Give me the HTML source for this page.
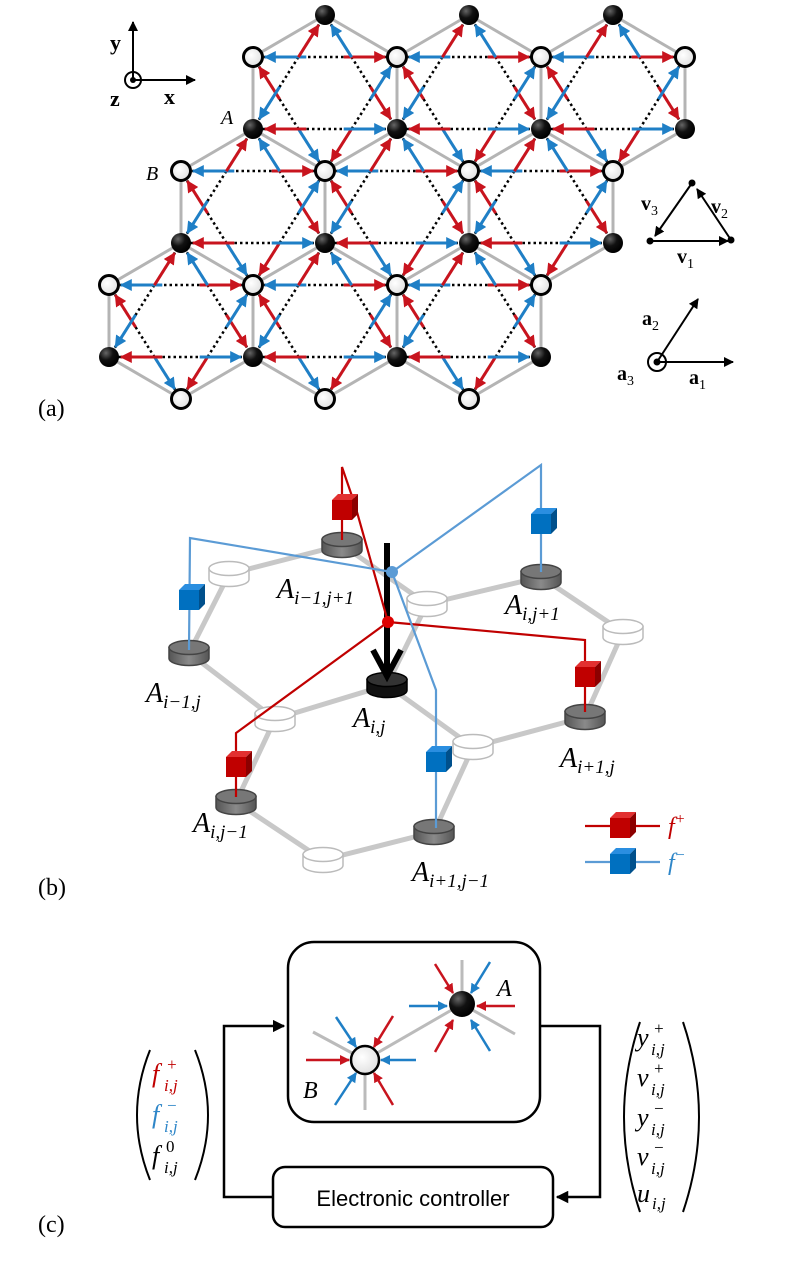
<!DOCTYPE html>
<html><head><meta charset="utf-8"><style>
html,body{margin:0;padding:0;background:#fff;}
svg{display:block;}
.s{font-family:"Liberation Serif",serif;}
.it{font-family:"Liberation Serif",serif;font-style:italic;}
</style></head><body>
<svg id="sv" width="787" height="1266" viewBox="0 0 787 1266" xmlns="http://www.w3.org/2000/svg">
<defs>
<marker id="mr" viewBox="0 0 10 10" refX="9" refY="5" markerWidth="4" markerHeight="4" orient="auto"><path d="M0,0L10,5L0,10z" fill="#c8141e"/></marker>
<marker id="mb" viewBox="0 0 10 10" refX="9" refY="5" markerWidth="4" markerHeight="4" orient="auto"><path d="M0,0L10,5L0,10z" fill="#1f7fc6"/></marker>
<marker id="mk" viewBox="0 0 10 10" refX="9" refY="5" markerWidth="5" markerHeight="5" orient="auto"><path d="M0,0L10,5L0,10z" fill="#000"/></marker>
<radialGradient id="gb" cx="0.35" cy="0.3" r="0.7"><stop offset="0" stop-color="#666"/><stop offset="0.5" stop-color="#111"/><stop offset="1" stop-color="#000"/></radialGradient>
<radialGradient id="gw" cx="0.4" cy="0.4" r="0.7"><stop offset="0" stop-color="#fff"/><stop offset="1" stop-color="#ddd"/></radialGradient>
<linearGradient id="gc" x1="0" x2="1"><stop offset="0" stop-color="#555"/><stop offset="0.5" stop-color="#8a8a8a"/><stop offset="1" stop-color="#555"/></linearGradient>
</defs>
<g id="latt"></g>

<!-- axes -->
<g stroke="#000" stroke-width="2" fill="none">
<line x1="133" y1="80" x2="133" y2="22" marker-end="url(#mk)"/>
<line x1="133" y1="80" x2="195" y2="80" marker-end="url(#mk)"/>
<circle cx="133" cy="80" r="8"/>
</g>
<circle cx="133" cy="80" r="3" fill="#000"/>
<text x="110" y="50" class="s" font-size="22" font-weight="bold">y</text>
<text x="110" y="106" class="s" font-size="22" font-weight="bold">z</text>
<text x="164" y="104" class="s" font-size="22" font-weight="bold">x</text>
<text x="221" y="124" class="it" font-size="20">A</text>
<text x="146" y="180" class="it" font-size="20">B</text>

<!-- v triangle -->
<g stroke="#000" stroke-width="2" fill="none">
<line x1="650" y1="241" x2="728" y2="241" marker-end="url(#mk)"/>
<line x1="731" y1="240" x2="697" y2="189" marker-end="url(#mk)"/>
<line x1="692" y1="183" x2="655" y2="236" marker-end="url(#mk)"/>
<line x1="657" y1="362" x2="733" y2="362" marker-end="url(#mk)"/>
<line x1="657" y1="362" x2="698" y2="299" marker-end="url(#mk)"/>
<circle cx="657" cy="362" r="9"/>
</g>
<circle cx="650" cy="241" r="3.5"/><circle cx="731" cy="240" r="3.5"/><circle cx="692" cy="183" r="3.5"/>
<circle cx="657" cy="362" r="3.5"/>
<g class="s" font-size="20" font-weight="bold">
<text x="641" y="210">v<tspan font-size="14" font-weight="normal" dy="5">3</tspan></text>
<text x="711" y="213">v<tspan font-size="14" font-weight="normal" dy="5">2</tspan></text>
<text x="677" y="263">v<tspan font-size="14" font-weight="normal" dy="5">1</tspan></text>
<text x="642" y="325">a<tspan font-size="14" font-weight="normal" dy="5">2</tspan></text>
<text x="617" y="380">a<tspan font-size="14" font-weight="normal" dy="5">3</tspan></text>
<text x="689" y="384">a<tspan font-size="14" font-weight="normal" dy="5">1</tspan></text>
</g>
<text x="38" y="416" class="s" font-size="24">(a)</text>

<!-- part b -->
<g stroke="#c8c8c8" stroke-width="5" stroke-linecap="round">
<line x1="229" y1="574" x2="342" y2="545"/><line x1="229" y1="574" x2="189" y2="653"/>
<line x1="189" y1="653" x2="275" y2="719"/><line x1="275" y1="719" x2="387" y2="685"/>
<line x1="275" y1="719" x2="236" y2="802"/><line x1="236" y1="802" x2="323" y2="860"/>
<line x1="323" y1="860" x2="434" y2="832"/><line x1="434" y1="832" x2="473" y2="747"/>
<line x1="473" y1="747" x2="387" y2="685"/><line x1="473" y1="747" x2="585" y2="717"/>
<line x1="585" y1="717" x2="623" y2="632"/><line x1="623" y1="632" x2="541" y2="577"/>
<line x1="541" y1="577" x2="427" y2="604"/><line x1="427" y1="604" x2="387" y2="685"/>
<line x1="427" y1="604" x2="342" y2="545"/>
</g>
<g id="cyl"></g>
<line x1="387" y1="543" x2="387" y2="676" stroke="#000" stroke-width="6"/>
<path d="M373,650 L387,676 L401,650" stroke="#000" stroke-width="6" fill="none"/>
<g stroke="#c00000" stroke-width="2.2" fill="none">
<polyline points="342,540 342,467 355,505 388,622"/>
<polyline points="388,622 585,640 585,712"/>
<polyline points="388,622 236,733 236,797"/>
<line x1="585" y1="826" x2="660" y2="826"/>
</g>
<g stroke="#5b9bd5" stroke-width="2.2" fill="none">
<polyline points="189,650 190,538 392,572"/>
<polyline points="541,572 541,465 392,572"/>
<polyline points="392,572 436,690 436,828"/>
<line x1="585" y1="862" x2="660" y2="862"/>
</g>
<circle cx="388" cy="622" r="6" fill="#d00"/>
<circle cx="392" cy="572" r="6" fill="#5b9bd5"/>
<g id="cubes"></g>
<g class="it" font-size="28">
<text x="277" y="598">A<tspan font-size="19" dy="6">i−1,j+1</tspan></text>
<text x="505" y="614">A<tspan font-size="19" dy="6">i,j+1</tspan></text>
<text x="146" y="702">A<tspan font-size="19" dy="6">i−1,j</tspan></text>
<text x="353" y="727">A<tspan font-size="19" dy="6">i,j</tspan></text>
<text x="560" y="767">A<tspan font-size="19" dy="6">i+1,j</tspan></text>
<text x="193" y="832">A<tspan font-size="19" dy="6">i,j−1</tspan></text>
<text x="412" y="881">A<tspan font-size="19" dy="6">i+1,j−1</tspan></text>
<text x="668" y="834" fill="#c00000" font-size="24">f<tspan font-size="16" dy="-10">+</tspan></text>
<text x="668" y="870" fill="#2e86c8" font-size="24">f<tspan font-size="16" dy="-10">−</tspan></text>
</g>
<text x="38" y="895" class="s" font-size="24">(b)</text>

<!-- part c -->
<rect x="288" y="942" width="252" height="180" rx="26" fill="none" stroke="#000" stroke-width="2.5"/>
<rect x="273" y="1167" width="280" height="60" rx="12" fill="none" stroke="#000" stroke-width="2.5"/>
<text x="413" y="1206" text-anchor="middle" font-family="Liberation Sans,sans-serif" font-size="22">Electronic controller</text>
<g stroke="#000" stroke-width="2.5" fill="none">
<polyline points="273,1197 224,1197 224,1026 284,1026" marker-end="url(#mk)"/>
<polyline points="540,1026 600,1026 600,1197 557,1197" marker-end="url(#mk)"/>
</g>
<g stroke="#bbb" stroke-width="3">
<line x1="462" y1="960" x2="462" y2="1004"/><line x1="462" y1="1004" x2="515" y2="1034"/>
<line x1="462" y1="1004" x2="365" y2="1060"/>
<line x1="313" y1="1032" x2="365" y2="1060"/><line x1="365" y1="1060" x2="365" y2="1110"/>
</g>
<g stroke-width="2.5">
<line x1="435" y1="964" x2="453" y2="993" stroke="#c8141e" marker-end="url(#mr)"/>
<line x1="490" y1="962" x2="471" y2="993" stroke="#1f7fc6" marker-end="url(#mb)"/>
<line x1="409" y1="1006" x2="447" y2="1006" stroke="#1f7fc6" marker-end="url(#mb)"/>
<line x1="515" y1="1006" x2="477" y2="1006" stroke="#c8141e" marker-end="url(#mr)"/>
<line x1="435" y1="1052" x2="453" y2="1020" stroke="#c8141e" marker-end="url(#mr)"/>
<line x1="490" y1="1051" x2="471" y2="1020" stroke="#1f7fc6" marker-end="url(#mb)"/>
<line x1="336" y1="1017" x2="356" y2="1047" stroke="#1f7fc6" marker-end="url(#mb)"/>
<line x1="393" y1="1016" x2="374" y2="1047" stroke="#c8141e" marker-end="url(#mr)"/>
<line x1="306" y1="1060" x2="349" y2="1060" stroke="#c8141e" marker-end="url(#mr)"/>
<line x1="416" y1="1060" x2="381" y2="1060" stroke="#1f7fc6" marker-end="url(#mb)"/>
<line x1="335" y1="1105" x2="356" y2="1073" stroke="#1f7fc6" marker-end="url(#mb)"/>
<line x1="393" y1="1105" x2="374" y2="1073" stroke="#c8141e" marker-end="url(#mr)"/>
</g>
<circle cx="462" cy="1004" r="13" fill="url(#gb)"/>
<circle cx="365" cy="1060" r="14" fill="url(#gw)" stroke="#000" stroke-width="2.5"/>
<text x="497" y="996" class="it" font-size="24">A</text>
<text x="303" y="1098" class="it" font-size="24">B</text>
<g fill="none" stroke="#000" stroke-width="2">
<path d="M150,1050 Q124,1115 150,1180"/><path d="M195,1050 Q221,1115 195,1180"/>
<path d="M640,1022 Q608,1117 640,1212"/><path d="M683,1022 Q715,1117 683,1212"/>
</g>
<g class="it" font-size="26">
<g fill="#c00000"><text x="152" y="1082">f</text><text x="166" y="1070" font-size="17">+</text><text x="164" y="1091" font-size="17">i,j</text></g>
<g fill="#2e86c8"><text x="152" y="1123">f</text><text x="166" y="1111" font-size="17">−</text><text x="164" y="1132" font-size="17">i,j</text></g>
<g><text x="152" y="1164">f</text><text x="166" y="1152" font-size="17" font-style="normal">0</text><text x="164" y="1173" font-size="17">i,j</text></g>
<g><text x="637" y="1046">y</text><text x="653" y="1034" font-size="17">+</text><text x="651" y="1055" font-size="17">i,j</text></g>
<g><text x="637" y="1086">v</text><text x="653" y="1074" font-size="17">+</text><text x="651" y="1095" font-size="17">i,j</text></g>
<g><text x="637" y="1126">y</text><text x="653" y="1114" font-size="17">−</text><text x="651" y="1135" font-size="17">i,j</text></g>
<g><text x="637" y="1165">v</text><text x="653" y="1153" font-size="17">−</text><text x="651" y="1174" font-size="17">i,j</text></g>
<g><text x="637" y="1202">u</text><text x="652" y="1209" font-size="17">i,j</text></g>
</g>
<text x="38" y="1232" class="s" font-size="24">(c)</text>
</svg>
<script>
var NS="http://www.w3.org/2000/svg";
function el(p,t,a){var e=document.createElementNS(NS,t);for(var k in a)e.setAttribute(k,a[k]);p.appendChild(e);return e;}
var L=document.getElementById("latt");
var blacks=[],opens=[];
[[15,[325,469,613]],[129,[253,397,541,685]],[243,[181,325,469,613]],[357,[109,253,397,541]]].forEach(function(r){r[1].forEach(function(x){blacks.push([x,r[0]]);});});
[[57,[253,397,541,685]],[171,[181,325,469,613]],[285,[109,253,397,541]],[399,[181,325,469]]].forEach(function(r){r[1].forEach(function(x){opens.push([x,r[0]]);});});
function has(arr,x,y){for(var i=0;i<arr.length;i++)if(Math.abs(arr[i][0]-x)<3&&Math.abs(arr[i][1]-y)<3)return true;return false;}
var gG=el(L,"g",{stroke:"#b4b4b4","stroke-width":3});
blacks.forEach(function(b){[[-72,42],[72,42],[0,-72]].forEach(function(d){var x=b[0]+d[0],y=b[1]+d[1];if(has(opens,x,y))el(gG,"line",{x1:b[0],y1:b[1],x2:x,y2:y});});});
var gD=el(L,"g",{stroke:"#000","stroke-width":2.5,"stroke-dasharray":"2.5 3"});
var gA=el(L,"g",{"stroke-width":3});
function inSet(d,set){for(var i=0;i<set.length;i++)if(Math.abs(set[i][0]-d[0])<3&&Math.abs(set[i][1]-d[1])<3)return true;return false;}
var oSet=[[144,0],[-72,-114],[-72,114]],bSet=[[-144,0],[72,-114],[72,114]];
function bond(p,q,set){var d=[q[0]-p[0],q[1]-p[1]];if(!inSet(d,set)){var t=p;p=q;q=t;d=[-d[0],-d[1]];}
var len=Math.hypot(d[0],d[1]),ux=d[0]/len,uy=d[1]/len;
el(gD,"line",{x1:p[0],y1:p[1],x2:q[0],y2:q[1]});
var a=len*0.37,r=12;
el(gA,"line",{x1:q[0]-ux*a,y1:q[1]-uy*a,x2:q[0]-ux*r,y2:q[1]-uy*r,stroke:"#c8141e","marker-end":"url(#mr)"});
el(gA,"line",{x1:p[0]+ux*a,y1:p[1]+uy*a,x2:p[0]+ux*r,y2:p[1]+uy*r,stroke:"#1f7fc6","marker-end":"url(#mb)"});}
blacks.forEach(function(b){var x=b[0],y=b[1];
var B=[[x,y],[x+72,y+114],[x-72,y+114]],O=[[x-72,y+42],[x+72,y+42],[x,y+156]];
var ok=B.every(function(p){return has(blacks,p[0],p[1]);})&&O.every(function(p){return has(opens,p[0],p[1]);});
if(!ok)return;
for(var i=0;i<3;i++)for(var j=i+1;j<3;j++){bond(O[i],O[j],oSet);bond(B[i],B[j],bSet);}
});
blacks.forEach(function(b){el(L,"circle",{cx:b[0],cy:b[1],r:10,fill:"url(#gb)"});});
opens.forEach(function(b){el(L,"circle",{cx:b[0],cy:b[1],r:9.5,fill:"url(#gw)",stroke:"#000","stroke-width":3});});
var C=document.getElementById("cyl");
function cyl(x,y,dark,blk){var rx=20,ry=7,h=11;
var f=blk?"#111":(dark?"url(#gc)":"#fff"),st=blk?"#000":(dark?"#444":"#bbb");
el(C,"path",{d:"M"+(x-rx)+","+(y-h/2)+" L"+(x-rx)+","+(y+h/2)+" A"+rx+","+ry+" 0 0 0 "+(x+rx)+","+(y+h/2)+" L"+(x+rx)+","+(y-h/2)+"z",fill:f,stroke:st,"stroke-width":1.5});
el(C,"ellipse",{cx:x,cy:y-h/2,rx:rx,ry:ry,fill:blk?"#333":(dark?"#777":"#fff"),stroke:st,"stroke-width":1.5});}
[[229,574],[427,604],[623,632],[275,719],[473,747],[323,860]].forEach(function(p){cyl(p[0],p[1],false);});
[[342,545],[541,577],[189,653],[585,717],[236,802],[434,832]].forEach(function(p){cyl(p[0],p[1],true);});
cyl(387,685,true,true);
var K=document.getElementById("cubes");
function cube(x,y,red){var s=20,o=6,fr=red?"#c00000":"#0070c0",tp=red?"#e23030":"#2a8ee0",sd=red?"#8c0000":"#00508c";
var X=x-s/2,Y=y-s/2;
el(K,"path",{d:"M"+X+","+Y+" l"+o+","+(-o)+" l"+s+",0 l"+(-o)+","+o+"z",fill:tp});
el(K,"path",{d:"M"+(X+s)+","+Y+" l"+o+","+(-o)+" l0,"+s+" l"+(-o)+","+o+"z",fill:sd});
el(K,"rect",{x:X,y:Y,width:s,height:s,fill:fr});}
cube(342,510,true);cube(585,677,true);cube(236,767,true);cube(620,828,true);
cube(189,600,false);cube(541,524,false);cube(436,762,false);cube(620,864,false);
</script>
</body></html>
